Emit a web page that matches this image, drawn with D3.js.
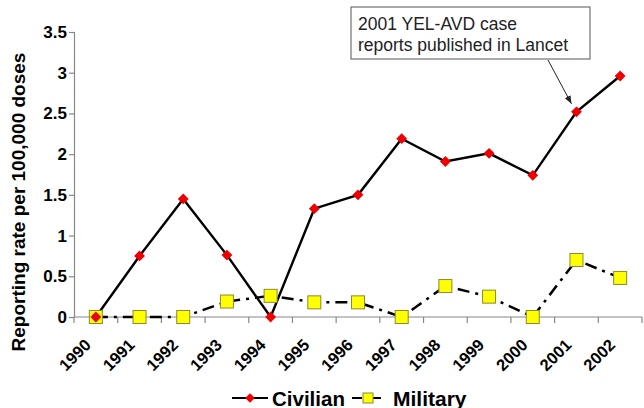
<!DOCTYPE html>
<html><head><meta charset="utf-8">
<script src="https://cdn.jsdelivr.net/npm/d3@7"></script>
<style>body{margin:0;background:#fff}svg{display:block;font-family:"Liberation Sans",Arial,sans-serif}</style>
</head><body><svg id="c" width="644" height="408"></svg>
<script>
const years = ["1990","1991","1992","1993","1994","1995","1996","1997","1998","1999","2000","2001","2002"];
const civilian = [0, 0.75, 1.45, 0.76, 0, 1.33, 1.5, 2.19, 1.91, 2.01, 1.74, 2.52, 2.96];
const military = [0, 0, 0, 0.19, 0.26, 0.18, 0.18, 0, 0.38, 0.25, 0, 0.70, 0.48];
const yTicks = [0, 0.5, 1, 1.5, 2, 2.5, 3, 3.5];
const seriesNames = ["Civilian", "Military"];
const annotationLines = ["2001 YEL-AVD case", "reports published in Lancet"];

const svg = d3.select("#c");
const x = d3.scaleBand().domain(years).range([74, 642]);
const y = d3.scaleLinear().domain([0, 3.5]).range([317, 32]);
const cx = d => x(d) + x.bandwidth() / 2;

// y axis
const ya = svg.append("g").attr("transform", "translate(74,0)")
  .call(d3.axisLeft(y).tickValues(yTicks).tickSize(5).tickFormat(d => d));
ya.select(".domain").attr("stroke", "#888").attr("stroke-width", 1.2);
ya.selectAll(".tick line").attr("stroke", "#888").attr("stroke-width", 1.2);
ya.selectAll(".tick text").attr("x", -7).attr("font-size", 17).attr("font-weight", "bold").attr("fill", "#000").attr("font-family", "Liberation Sans, Arial, sans-serif");

// x axis (ticks between categories)
const xa = svg.append("g").attr("transform", "translate(0,317)");
xa.append("line").attr("x1", 74).attr("x2", 642).attr("stroke", "#888").attr("stroke-width", 1.2);
const bounds = years.map(d => x(d)).concat([x(years[years.length - 1]) + x.bandwidth()]);
xa.selectAll("line.t").data(bounds).join("line").attr("class", "t")
  .attr("x1", d => d).attr("x2", d => d).attr("y1", 0).attr("y2", 6)
  .attr("stroke", "#888").attr("stroke-width", 1.2);
xa.selectAll("text").data(years).join("text")
  .attr("transform", d => `translate(${cx(d) - 8},${25}) rotate(-45)`)
  .attr("text-anchor", "end").attr("dy", "0.35em")
  .attr("font-size", 16.5).attr("font-weight", "bold").text(d => d);

// y label
svg.append("text").attr("transform", "translate(25,202) rotate(-90)")
  .attr("text-anchor", "middle").attr("font-size", 19).attr("font-weight", "bold").text("Reporting rate per 100,000 doses");

// lines
const line = d3.line().x((d, i) => cx(years[i])).y(d => y(d));
svg.append("path").datum(military).attr("d", line).attr("fill", "none")
  .attr("stroke", "#000").attr("stroke-width", 2.5).attr("stroke-dasharray", "12,6,3,6");
svg.append("path").datum(civilian).attr("d", line).attr("fill", "none")
  .attr("stroke", "#000").attr("stroke-width", 2.4);

const diamond = d3.symbol().type(d3.symbolDiamond2).size(75);
svg.selectAll("rect.m").data(military).join("rect").attr("class", "m")
  .attr("x", (d, i) => cx(years[i]) - 6.5).attr("y", d => y(d) - 6.5)
  .attr("width", 13).attr("height", 13).attr("fill", "#ffff00").attr("stroke", "#8a8a30").attr("stroke-width", 1);
svg.selectAll("path.c").data(civilian).join("path").attr("class", "c")
  .attr("d", diamond).attr("transform", (d, i) => `translate(${cx(years[i])},${y(d)})`)
  .attr("fill", "#ee0000");

// annotation
svg.append("rect").attr("x", 351).attr("y", 7).attr("width", 239).attr("height", 52)
  .attr("fill", "#fff").attr("stroke", "#555").attr("stroke-width", 1);
svg.selectAll("text.ann").data(annotationLines).join("text").attr("class", "ann")
  .attr("x", 358).attr("y", (d, i) => 30 + i * 21).attr("font-size", 17.5).attr("fill", "#222").text(d => d);
svg.append("defs").append("marker").attr("id", "ah").attr("viewBox", "0 0 10 10")
  .attr("refX", 10).attr("refY", 5).attr("markerWidth", 8).attr("markerHeight", 8).attr("orient", "auto")
  .append("path").attr("d", "M0,1 L10,5 L0,9 Z").attr("fill", "#222");
svg.append("line").attr("x1", 548).attr("y1", 60).attr("x2", cx("2001") - 5).attr("y2", y(civilian[11]) - 8)
  .attr("stroke", "#222").attr("stroke-width", 1).attr("marker-end", "url(#ah)");

// legend
const lg = svg.append("g").attr("transform", "translate(0,398)");
lg.append("line").attr("x1", 232).attr("x2", 268).attr("stroke", "#000").attr("stroke-width", 2.2);
lg.append("path").attr("d", d3.symbol().type(d3.symbolDiamond2).size(60)).attr("transform", "translate(250,0)").attr("fill", "#ee0000");
lg.append("text").attr("x", 272).attr("y", 7.5).attr("font-size", 20.5).attr("font-weight", "bold").text(seriesNames[0]);
lg.append("line").attr("x1", 352).attr("x2", 381).attr("stroke", "#000").attr("stroke-width", 2.2).attr("stroke-dasharray", "10,4,3,4");
lg.append("rect").attr("x", 363).attr("y", -5).attr("width", 10).attr("height", 10).attr("fill", "#ffff00").attr("stroke", "#8a8a30");
lg.append("text").attr("x", 393).attr("y", 7.5).attr("font-size", 21).attr("font-weight", "bold").text(seriesNames[1]);
</script></body></html>
